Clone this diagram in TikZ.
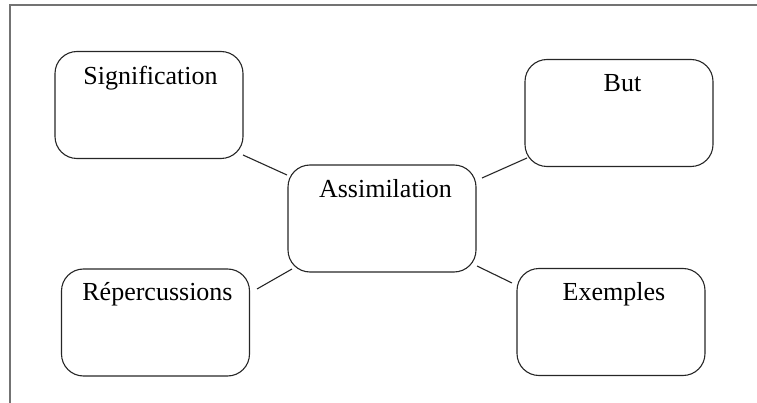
\documentclass[tikz,border=0pt]{standalone}
\usepackage{fontspec}
\setmainfont{Liberation Serif}
\begin{document}
\begin{tikzpicture}[x=1pt,y=-1pt,
  box/.style={draw=black!85, line width=1.1pt, rounded corners=22pt, minimum width=188pt, minimum height=107pt, inner sep=0pt},
  lbl/.style={anchor=base, inner sep=0pt, font=\fontsize{26}{30}\selectfont},
  link/.style={draw=black!85, line width=1.1pt},
  frame/.style={draw=black!55, line width=1.6pt}]
\useasboundingbox (0,0) rectangle (757,403);
\draw[frame] (10,403) -- (10,5) -- (757,5);
% boxes
\node[box] (sig) at (149,105) {};
\node[box] (but) at (619,113) {};
\node[box] (assim) at (382,218.5) {};
\node[box] (rep) at (155.5,322.5) {};
\node[box] (ex) at (611,322) {};
% labels
\node[lbl] (sigt) at (150.5,85) {Signification};
\node[lbl] (butt) at (622.5,92) {But};
\node[lbl] (assimt) at (385.5,198) {Assimilation};
\node[lbl] (rept) at (157.5,300) {Répercussions};
\node[lbl] (ext) at (614,300) {Exemples};
% connector ends
\coordinate (s1) at (243,155);
\coordinate (s2) at (287,175);
\coordinate (b1) at (482,178);
\coordinate (b2) at (527,158);
\coordinate (r1) at (292,269);
\coordinate (r2) at (257,289);
\coordinate (e1) at (477,266);
\coordinate (e2) at (512,283);
\draw[link] (s1) -- (s2);
\draw[link] (b1) -- (b2);
\draw[link] (r1) -- (r2);
\draw[link] (e1) -- (e2);
\end{tikzpicture}
\end{document}
